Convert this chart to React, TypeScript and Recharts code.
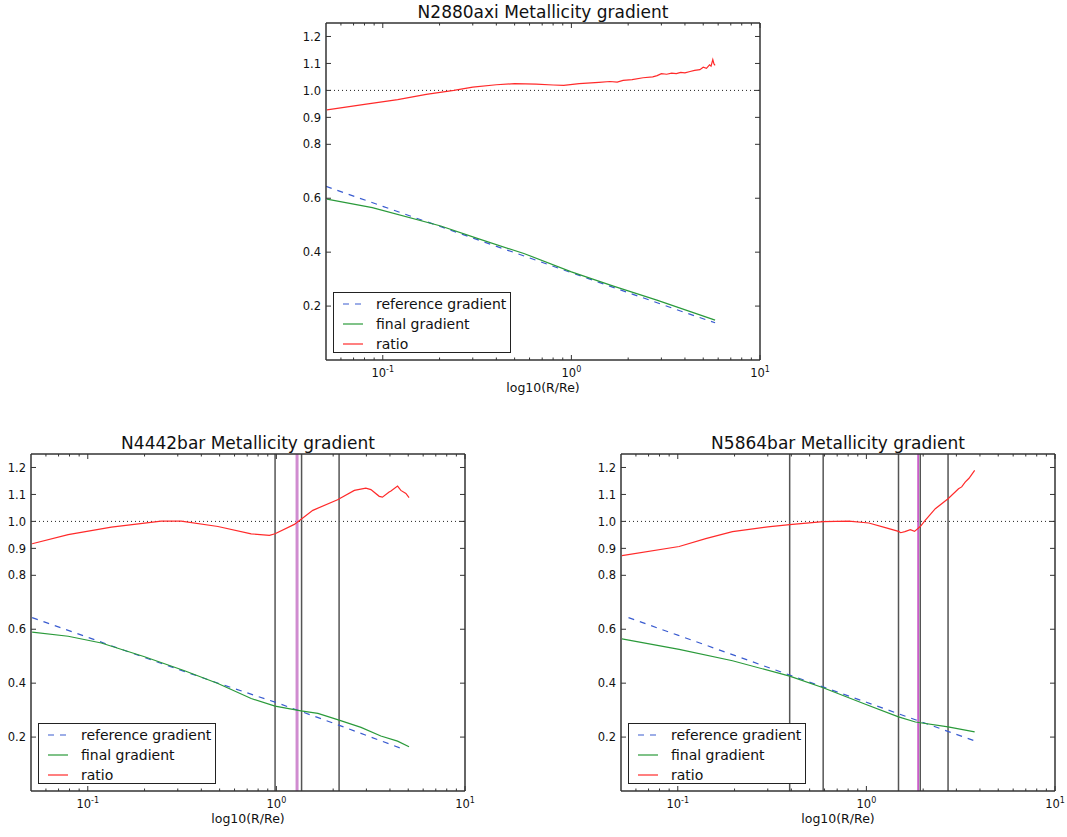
import React from "react";
import { LineChart, Line, XAxis, YAxis, ReferenceLine } from "recharts";

// [R/Re, value] pairs
const n2880Reference = [
  [0.05, 0.644], [0.1, 0.57], [0.2, 0.496], [0.5, 0.398], [1.0, 0.324],
  [2.0, 0.25], [4.0, 0.176], [5.78, 0.138],
];
const n2880Final = [
  [0.0506, 0.597], [0.088, 0.565], [0.203, 0.497], [0.317, 0.451], [0.56, 0.395],
  [1.0, 0.327], [1.67, 0.274], [2.84, 0.222], [5.78, 0.148],
];
const n2880Ratio = [
  [0.0506, 0.928], [0.08, 0.948], [0.12, 0.966], [0.17, 0.985], [0.238, 1.0],
  [0.3, 1.012], [0.4, 1.021], [0.5, 1.025], [0.65, 1.023], [0.8, 1.02],
  [0.91, 1.019], [1.1, 1.025], [1.4, 1.03], [1.6, 1.033], [1.75, 1.031],
  [1.88, 1.037], [2.1, 1.04], [2.4, 1.047], [2.7, 1.05], [2.85, 1.055],
  [3.0, 1.062], [3.2, 1.06], [3.4, 1.064], [3.6, 1.062], [3.8, 1.067],
  [4.0, 1.065], [4.26, 1.07], [4.5, 1.074], [4.8, 1.077], [5.0, 1.086],
  [5.2, 1.082], [5.4, 1.095], [5.5, 1.09], [5.62, 1.114], [5.7, 1.098], [5.78, 1.093],
];

const n4442Reference = [
  [0.0507, 0.643], [0.1, 0.57], [0.2, 0.495], [0.5, 0.398], [1.0, 0.328],
  [2.0, 0.252], [4.76, 0.154],
];
const n4442Final = [
  [0.0507, 0.589], [0.0787, 0.574], [0.118, 0.549], [0.2, 0.498], [0.326, 0.446],
  [0.49, 0.399], [0.735, 0.343], [0.984, 0.315], [1.35, 0.297], [1.66, 0.288],
  [2.15, 0.263], [2.81, 0.236], [3.58, 0.204], [4.39, 0.185], [5.05, 0.164],
];
const n4442Ratio = [
  [0.0507, 0.917], [0.0787, 0.951], [0.1334, 0.979], [0.245, 1.001], [0.313, 1.001],
  [0.49, 0.981], [0.735, 0.954], [0.919, 0.948], [0.984, 0.954], [1.245, 0.989],
  [1.56, 1.041], [2.11, 1.08], [2.59, 1.115], [2.98, 1.123], [3.17, 1.118],
  [3.51, 1.093], [3.65, 1.09], [3.96, 1.109], [4.05, 1.113], [4.39, 1.131],
  [4.57, 1.115], [4.86, 1.104], [5.05, 1.088],
];
const n4442Markers = [0.984, 1.36, 2.15];
const n4442Pink = 1.287;

const n5864Reference = [
  [0.0548, 0.643], [0.1, 0.578], [0.2, 0.503], [0.392, 0.43], [1.0, 0.329],
  [2.0, 0.254], [3.75, 0.186],
];
const n5864Final = [
  [0.0506, 0.564], [0.1017, 0.525], [0.195, 0.483], [0.392, 0.426], [0.59, 0.383],
  [0.988, 0.322], [1.48, 0.275], [1.82, 0.256], [2.71, 0.238], [3.75, 0.219],
];
const n5864Ratio = [
  [0.0506, 0.873], [0.1017, 0.907], [0.1406, 0.936], [0.195, 0.962], [0.3, 0.98],
  [0.392, 0.988], [0.59, 0.999], [0.807, 1.001], [1.03, 0.994], [1.26, 0.977],
  [1.48, 0.963], [1.52, 0.958], [1.6, 0.962], [1.71, 0.969], [1.8, 0.963],
  [1.93, 0.981], [2.05, 1.004], [2.32, 1.047], [2.71, 1.084], [3.08, 1.121],
  [3.2, 1.128], [3.34, 1.146], [3.5, 1.16], [3.75, 1.189],
];
const n5864Markers = [0.392, 0.59, 1.48, 1.93, 2.71];
const n5864Pink = 1.88;

const yTicks = [0.2, 0.4, 0.6, 0.8, 0.9, 1.0, 1.1, 1.2];
const xMajor = [0.1, 1, 10];
const xTicks = [
  0.06, 0.07, 0.08, 0.09, 0.1, 0.2, 0.3, 0.4, 0.5, 0.6, 0.7, 0.8, 0.9, 1,
  2, 3, 4, 5, 6, 7, 8, 9, 10,
];
const xTickLabels: Record<number, string> = { 0.1: "-1", 1: "0", 10: "1" };

const toPoints = (a: number[][]) => a.map(([r, v]) => ({ r, v }));

const PLOT_W = 434;
const PLOT_H = 337;
const AXIS_W = 50;
const TOP_M = 12;
const BOTTOM_H = 40;
const RIGHT_M = 10;
const FRAME = "#333";

const BLUE = "#3a5cd0";
const GREEN = "#2a9a3a";
const RED = "#ff2a2a";

const XTickBottom = (props: any) => {
  const { x, y, payload } = props;
  const label = xTickLabels[payload.value];
  const major = xMajor.includes(payload.value);
  return (
    <g>
      <line x1={x} y1={y} x2={x} y2={y - (major ? 5 : 2.5)} stroke={FRAME} />
      {label !== undefined && (
        <text x={x} y={y + 17} textAnchor="middle" fontSize={11.5} fill="#111">
          10
          <tspan dy={-5} fontSize={8}>
            {label}
          </tspan>
        </text>
      )}
    </g>
  );
};

const XTickTop = (props: any) => {
  const { x, y, payload } = props;
  const major = xMajor.includes(payload.value);
  return <line x1={x} y1={y} x2={x} y2={y + (major ? 5 : 2.5)} stroke={FRAME} />;
};

const YTickLeft = (props: any) => {
  const { x, y, payload } = props;
  return (
    <g>
      <line x1={x} y1={y} x2={x + 5} y2={y} stroke={FRAME} />
      <text x={x - 5} y={y} dy="0.36em" textAnchor="end" fontSize={11.5} fill="#111">
        {payload.value.toFixed(1)}
      </text>
    </g>
  );
};

const YTickRight = (props: any) => {
  const { x, y } = props;
  return <line x1={x} y1={y} x2={x - 5} y2={y} stroke={FRAME} />;
};

const LegendBox = () => {
  const rows = [
    { name: "reference gradient", color: BLUE, dash: "6 6" },
    { name: "final gradient", color: GREEN, dash: undefined },
    { name: "ratio", color: RED, dash: undefined },
  ];
  return (
    <div
      style={{
        position: "absolute",
        left: AXIS_W + 7,
        top: TOP_M + PLOT_H - 7 - 61,
        width: 178,
        height: 61,
        boxSizing: "border-box",
        border: "1.2px solid #222",
        background: "#fff",
      }}
    >
      {rows.map((row, i) => (
        <div
          key={row.name}
          style={{ position: "absolute", left: 0, top: 1 + i * 20, height: 20, width: 176 }}
        >
          <svg width={30} height={20} style={{ position: "absolute", left: 8, top: 0 }}>
            <line x1={1} y1={10} x2={21} y2={10} stroke={row.color} strokeWidth={1.2} strokeDasharray={row.dash} />
          </svg>
          <span
            style={{
              position: "absolute",
              left: 42,
              top: 0,
              lineHeight: "20px",
              fontSize: 14,
              color: "#111",
              whiteSpace: "nowrap",
            }}
          >
            {row.name}
          </span>
        </div>
      ))}
    </div>
  );
};

interface PanelProps {
  title: string;
  plotLeft: number;
  plotTop: number;
  reference: number[][];
  final: number[][];
  ratio: number[][];
  markers?: number[];
  pink?: number;
  pinkColor?: string;
  pinkWidth?: number;
}

const Panel: React.FC<PanelProps> = ({
  title,
  plotLeft,
  plotTop,
  reference,
  final,
  ratio,
  markers = [],
  pink,
  pinkColor = "#d08cd0",
  pinkWidth = 3,
}) => {
  const width = AXIS_W + PLOT_W + RIGHT_M + 1;
  const height = TOP_M + 1 + PLOT_H + BOTTOM_H;
  return (
    <div style={{ position: "absolute", left: plotLeft - AXIS_W, top: plotTop - TOP_M - 1, width, height }}>
      <LineChart width={width} height={height} margin={{ top: TOP_M, right: RIGHT_M, left: 0, bottom: 0 }}>
        <XAxis
          dataKey="r"
          type="number"
          scale="log"
          domain={[0.05, 10]}
          allowDataOverflow
          ticks={xTicks}
          interval={0}
          height={BOTTOM_H}
          tickLine={false}
          tickSize={0}
          tickMargin={0}
          tick={(p: any) => <XTickBottom {...p} />}
          axisLine={{ stroke: FRAME, strokeWidth: 1.5 }}
        />
        <XAxis
          xAxisId="top"
          orientation="top"
          dataKey="r"
          type="number"
          scale="log"
          domain={[0.05, 10]}
          allowDataOverflow
          ticks={xTicks}
          interval={0}
          height={1}
          tickLine={false}
          tickSize={0}
          tickMargin={0}
          tick={(p: any) => <XTickTop {...p} />}
          axisLine={{ stroke: FRAME, strokeWidth: 1.5 }}
        />
        <YAxis
          type="number"
          domain={[0, 1.25]}
          allowDataOverflow
          ticks={yTicks}
          interval={0}
          width={AXIS_W}
          tickLine={false}
          tickSize={0}
          tickMargin={0}
          tick={(p: any) => <YTickLeft {...p} />}
          axisLine={{ stroke: FRAME, strokeWidth: 1.5 }}
        />
        <YAxis
          yAxisId="right"
          orientation="right"
          type="number"
          domain={[0, 1.25]}
          allowDataOverflow
          ticks={yTicks}
          interval={0}
          width={1}
          tickLine={false}
          tickSize={0}
          tickMargin={0}
          tick={(p: any) => <YTickRight {...p} />}
          axisLine={{ stroke: FRAME, strokeWidth: 1.5 }}
        />
        <ReferenceLine y={1} stroke="#222" strokeDasharray="1 3" strokeWidth={1} />
        {markers.map((m) => (
          <ReferenceLine key={m} x={m} stroke="#555" strokeWidth={1.5} />
        ))}
        {pink !== undefined && <ReferenceLine x={pink} stroke={pinkColor} strokeWidth={pinkWidth} />}
        <Line
          data={toPoints(reference)}
          dataKey="v"
          type="linear"
          stroke={BLUE}
          strokeWidth={1.2}
          strokeDasharray="6 6"
          dot={false}
          isAnimationActive={false}
        />
        <Line
          data={toPoints(final)}
          dataKey="v"
          type="linear"
          stroke={GREEN}
          strokeWidth={1.2}
          dot={false}
          isAnimationActive={false}
        />
        <Line
          data={toPoints(ratio)}
          dataKey="v"
          type="linear"
          stroke={RED}
          strokeWidth={1.2}
          dot={false}
          isAnimationActive={false}
        />
      </LineChart>
      <div
        style={{
          position: "absolute",
          left: AXIS_W,
          width: PLOT_W,
          top: TOP_M + 1 - 21,
          lineHeight: "20px",
          fontSize: 17,
          textAlign: "center",
          color: "#111",
          whiteSpace: "nowrap",
        }}
      >
        {title}
      </div>
      <div
        style={{
          position: "absolute",
          left: AXIS_W,
          width: PLOT_W,
          top: TOP_M + 1 + PLOT_H + 20,
          lineHeight: "16px",
          fontSize: 12.5,
          textAlign: "center",
          color: "#111",
        }}
      >
        log10(R/Re)
      </div>
      <div style={{ position: "absolute", left: 0, top: 1, width: 0, height: 0 }}>
        <LegendBox />
      </div>
    </div>
  );
};

export default function App() {
  return (
    <div
      style={{
        position: "absolute",
        left: 0,
        top: 0,
        width: 1067,
        height: 837,
        background: "#fff",
        fontFamily: "'DejaVu Sans', sans-serif",
      }}
    >
      <Panel
        title="N2880axi Metallicity gradient"
        plotLeft={326}
        plotTop={23}
        reference={n2880Reference}
        final={n2880Final}
        ratio={n2880Ratio}
      />
      <Panel
        title="N4442bar Metallicity gradient"
        plotLeft={31}
        plotTop={454}
        reference={n4442Reference}
        final={n4442Final}
        ratio={n4442Ratio}
        markers={n4442Markers}
        pink={n4442Pink}
      />
      <Panel
        title="N5864bar Metallicity gradient"
        plotLeft={621}
        plotTop={454}
        reference={n5864Reference}
        final={n5864Final}
        ratio={n5864Ratio}
        markers={n5864Markers}
        pink={n5864Pink}
        pinkColor="#c040c0"
        pinkWidth={1.5}
      />
    </div>
  );
}
